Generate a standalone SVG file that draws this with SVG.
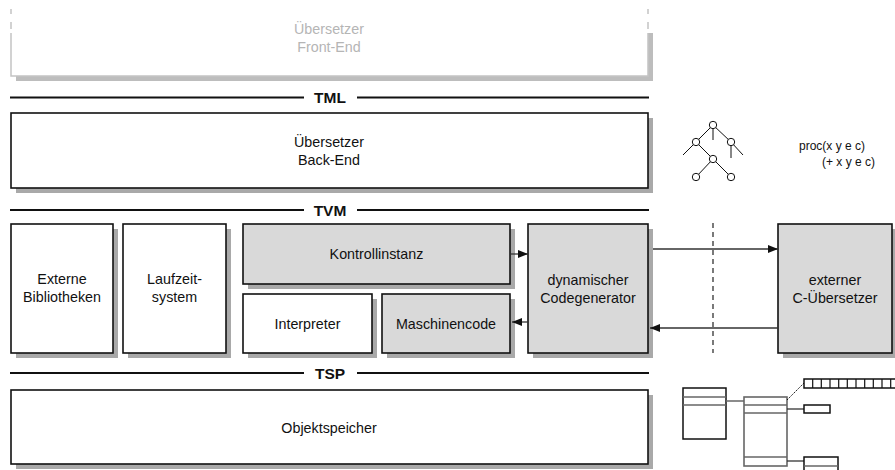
<svg xmlns="http://www.w3.org/2000/svg" width="895" height="470" viewBox="0 0 895 470">
<style>
text{font-family:"Liberation Sans",Arial,sans-serif;font-size:14.3px;fill:#111;text-anchor:middle}
.lbl{font-weight:bold;font-size:15.5px}
.box{fill:#fff;stroke:#111;stroke-width:1.6}
.gbox{fill:#d9d9d9;stroke:#111;stroke-width:1.6}
.sh{fill:#a9a9a9}
.rule{stroke:#111;stroke-width:2}
.conn{stroke:#333;stroke-width:1.3;fill:none}
.t{stroke:#111;stroke-width:1;fill:none}
.tc{fill:#fff;stroke:#111;stroke-width:1}
.ds{fill:#fff;stroke:#111;stroke-width:1.5}
.small{font-size:12px;text-anchor:start}
</style>
<defs>
<marker id="ah" viewBox="0 0 10 8" refX="10" refY="4" markerWidth="10" markerHeight="8" markerUnits="userSpaceOnUse" orient="auto">
<path d="M0,0 L10,4 L0,8 Z" fill="#111"/>
</marker>
</defs>

<g id="frontend">
<path d="M16,81 H653 V33 H648 V76 H16 Z" fill="#bdbdbd"/>
<path d="M11,33 V76 H648 V33" fill="none" stroke="#c4c4c4" stroke-width="1.5"/>
<path d="M11,9 V14 M11,22 V29 M648,9 V14 M648,22 V29" stroke="#c4c4c4" stroke-width="1.5"/>
<text x="329" y="34" style="fill:#b5b5b5">Übersetzer</text>
<text x="329" y="52" style="fill:#b5b5b5">Front-End</text>
</g>

<g id="tml">
<line class="rule" x1="10" y1="97.5" x2="304" y2="97.5"/>
<line class="rule" x1="357" y1="97.5" x2="649" y2="97.5"/>
<text class="lbl" x="330" y="103">TML</text>
</g>

<g id="backend">
<rect class="sh" x="16" y="118" width="637" height="75"/>
<rect class="box" x="11" y="113" width="637" height="75"/>
<text x="329" y="147">Übersetzer</text>
<text x="329" y="165">Back-End</text>
</g>

<g id="tvm">
<line class="rule" x1="10" y1="210" x2="304" y2="210"/>
<line class="rule" x1="357" y1="210" x2="649" y2="210"/>
<text class="lbl" x="330" y="215.5">TVM</text>
</g>

<g id="extbib">
<rect class="sh" x="16" y="229" width="102" height="129"/>
<rect class="box" x="11" y="224" width="102" height="129"/>
<text x="62" y="284">Externe</text>
<text x="62" y="302">Bibliotheken</text>
</g>

<g id="laufzeit">
<rect class="sh" x="128" y="229" width="103" height="129"/>
<rect class="box" x="123" y="224" width="103" height="129"/>
<text x="174.5" y="284">Laufzeit-</text>
<text x="174.5" y="302">system</text>
</g>

<g id="kontroll">
<rect class="sh" x="248" y="229" width="267" height="60"/>
<rect class="gbox" x="243" y="224" width="267" height="60"/>
<text x="376.5" y="259">Kontrollinstanz</text>
</g>

<g id="interpreter">
<rect class="sh" x="248" y="299" width="129" height="59"/>
<rect class="box" x="243" y="294" width="129" height="59"/>
<text x="307.5" y="329">Interpreter</text>
</g>

<g id="maschinencode">
<rect class="sh" x="387" y="299" width="128" height="59"/>
<rect class="gbox" x="382" y="294" width="128" height="59"/>
<text x="446" y="329">Maschinencode</text>
</g>

<g id="codegen">
<rect class="sh" x="533" y="229" width="120" height="129"/>
<rect class="gbox" x="528" y="224" width="120" height="129"/>
<text x="588" y="285">dynamischer</text>
<text x="588" y="303">Codegenerator</text>
</g>

<g id="extcomp">
<rect class="sh" x="783" y="229" width="114" height="129"/>
<rect class="gbox" x="778" y="224" width="114" height="129"/>
<text x="835" y="285">externer</text>
<text x="835" y="303">C-Übersetzer</text>
</g>

<g id="tsp">
<line class="rule" x1="10" y1="373" x2="304" y2="373"/>
<line class="rule" x1="357" y1="373" x2="649" y2="373"/>
<text class="lbl" x="330" y="378.5">TSP</text>
</g>

<g id="objektspeicher">
<rect class="sh" x="16" y="395" width="637" height="74"/>
<rect class="box" x="11" y="390" width="637" height="74"/>
<text x="329" y="433">Objektspeicher</text>
</g>

<g id="connectors">
<line class="conn" x1="511" y1="254" x2="528" y2="254" marker-end="url(#ah)"/>
<line class="conn" x1="528" y1="322" x2="512" y2="322" marker-end="url(#ah)"/>
<line class="conn" x1="653" y1="249" x2="778" y2="249" marker-end="url(#ah)"/>
<line class="conn" x1="778" y1="328" x2="650" y2="328" marker-end="url(#ah)"/>
<line x1="713" y1="223" x2="713" y2="353" stroke="#222" stroke-width="1.2" stroke-dasharray="5,4"/>
</g>

<g id="tree">
<path class="t" d="M713,125 L696,142 M713,125 L731,142 M713,125 V140 M696,142 L683,155 M731,142 V158 M731,142 L743,155 M696,142 L713,159 M713,159 L696,177 M713,159 L731,177"/>
<circle class="tc" cx="713" cy="125" r="3.7"/>
<circle class="tc" cx="696" cy="142" r="3.7"/>
<circle class="tc" cx="731" cy="142" r="3.7"/>
<circle class="tc" cx="713" cy="159" r="3.7"/>
<circle class="tc" cx="696" cy="177" r="3.7"/>
<circle class="tc" cx="731" cy="177" r="3.7"/>
</g>

<g id="code">
<text class="small" x="799" y="150">proc(x y e c)</text>
<text class="small" x="822" y="166">(+ x y e c)</text>
</g>

<g id="store">
<rect class="ds" x="683" y="388" width="43" height="51"/>
<line x1="683" y1="397" x2="726" y2="397" stroke="#666" stroke-width="1.3"/>
<line x1="683" y1="405" x2="726" y2="405" stroke="#666" stroke-width="1.3"/>
<line x1="726" y1="401" x2="744" y2="401" stroke="#666" stroke-width="1.5"/>
<rect x="744" y="397" width="43" height="69" fill="#fff" stroke="#666" stroke-width="1.6"/>
<line x1="744" y1="405" x2="787" y2="405" stroke="#666" stroke-width="1.3"/>
<line x1="744" y1="413" x2="787" y2="413" stroke="#666" stroke-width="1.3"/>
<line x1="744" y1="457" x2="787" y2="457" stroke="#666" stroke-width="1.3"/>
<line x1="787" y1="400" x2="804" y2="383" stroke="#111" stroke-width="1" stroke-dasharray="1.5,1"/>
<line x1="787" y1="409" x2="804" y2="409" stroke="#333" stroke-width="1.3"/>
<line x1="787" y1="461" x2="804" y2="461" stroke="#333" stroke-width="1.3"/>
<rect class="ds" x="804" y="405" width="26" height="8"/>
<rect class="ds" x="804" y="457" width="34" height="16"/>
<line x1="804" y1="466" x2="838" y2="466" stroke="#666" stroke-width="1.3"/>
<rect class="ds" x="804" y="379" width="95" height="9"/>
<path d="M812.7,379 V388 M821.3,379 V388 M830,379 V388 M838.7,379 V388 M847.3,379 V388 M856,379 V388 M864.7,379 V388 M873.3,379 V388 M882,379 V388 M890.7,379 V388" stroke="#111" stroke-width="1.2"/>
</g>
</svg>
